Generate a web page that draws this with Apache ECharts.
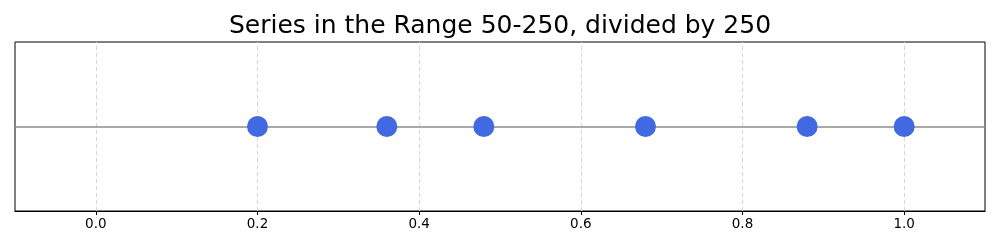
<!DOCTYPE html>
<html>
<head>
<meta charset="utf-8">
<script src="https://cdn.jsdelivr.net/npm/echarts@6/dist/echarts.min.js"></script>
<style>html,body{margin:0;padding:0;background:#fff}#c{width:1000px;height:250px}</style>
</head>
<body>
<div id="c"></div>
<script>
const titleText = 'Series in the Range 50-250, divided by 250';
const rawValues = [50, 90, 120, 170, 220, 250];
const divisor = 250;
const xTicks = [0.0, 0.2, 0.4, 0.6, 0.8, 1.0];
const baselineY = 0;

const points = rawValues.map(v => [v / divisor, baselineY]);

const chart = echarts.init(document.getElementById('c'), null, {renderer: 'canvas'});
chart.setOption({
  animation: false,
  backgroundColor: '#ffffff',
  title: {
    text: titleText,
    left: 'center',
    top: 9,
    textStyle: {fontFamily: 'DejaVu Sans', fontSize: 25, fontWeight: 'normal', color: '#000'}
  },
  grid: {left: 15, right: 15, top: 42, bottom: 39, show: true, borderColor: '#000', borderWidth: 1, backgroundColor: 'transparent'},
  xAxis: {
    type: 'value', min: -0.1, max: 1.1,
    axisLine: {show: true, onZero: false, lineStyle: {color: '#000', width: 1}},
    axisTick: {show: true, customValues: xTicks, length: 4, lineStyle: {color: '#000'}},
    axisLabel: {show: true, customValues: xTicks, margin: 6, formatter: v => v.toFixed(1), fontFamily: 'DejaVu Sans', fontSize: 13.5, color: '#000'},
    splitLine: {show: false}
  },
  yAxis: {
    type: 'value', min: -1, max: 1,
    axisLine: {show: false}, axisTick: {show: false}, axisLabel: {show: false}, splitLine: {show: false}
  },
  series: [
    {
      type: 'line', data: [], z: 1, silent: true,
      markLine: {
        silent: true, symbol: ['none', 'none'], label: {show: false},
        lineStyle: {type: [4, 3], color: '#d6d6d6', width: 1},
        data: xTicks.map(t => ({xAxis: t}))
      }
    },
    {
      type: 'line', data: [], z: 2, silent: true,
      markLine: {
        silent: true, symbol: ['none', 'none'], label: {show: false},
        lineStyle: {type: 'solid', color: '#8c8c8c', width: 1.5},
        data: [{yAxis: baselineY}]
      }
    },
    {
      type: 'scatter', z: 5,
      data: points,
      symbol: 'circle', symbolSize: 21,
      itemStyle: {color: '#4169E1', opacity: 1}
    }
  ]
});
</script>
</body>
</html>
